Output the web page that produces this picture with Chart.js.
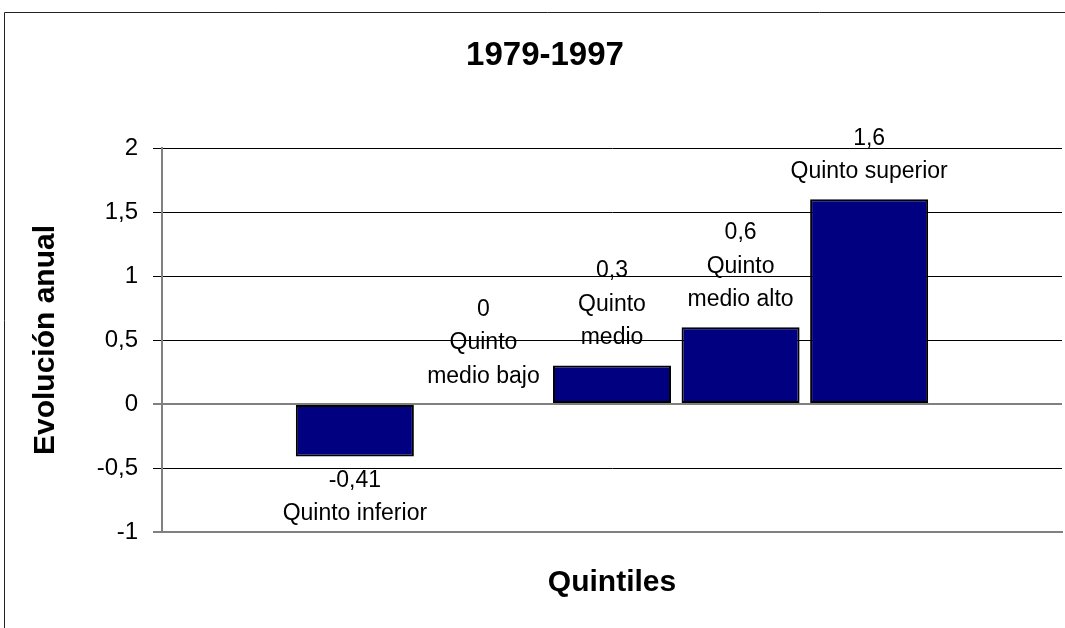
<!DOCTYPE html>
<html>
<head>
<meta charset="utf-8">
<script src="https://cdn.jsdelivr.net/npm/chart.js@4/dist/chart.umd.min.js"></script>
<style>
  html, body { margin: 0; padding: 0; background: #fff; overflow: hidden; width: 1065px; height: 628px; }
  #wrap { position: absolute; left: 0; top: 0; width: 1090px; height: 628px; }
</style>
</head>
<body>
<div id="wrap"><canvas id="c" width="1090" height="628"></canvas></div>
<script>
// ---- data ----
const categories = ['', 'Quinto inferior', 'Quinto medio bajo', 'Quinto medio', 'Quinto medio alto', 'Quinto superior', ''];
const categoryLines = [[], ['Quinto inferior'], ['Quinto', 'medio bajo'], ['Quinto', 'medio'], ['Quinto', 'medio alto'], ['Quinto superior'], []];
const values = [null, -0.41, 0, 0.3, 0.6, 1.6, null];
const valueLabels = ['', '-0,41', '0', '0,3', '0,6', '1,6', ''];
const yTicks = [-1, -0.5, 0, 0.5, 1, 1.5, 2];
const chartTitle = '1979-1997';
const yTitle = 'Evolución anual';
const xTitle = 'Quintiles';

Chart.defaults.font.family = "'Liberation Sans', Arial, sans-serif";
Chart.defaults.color = '#000';

const frame = {
  id: 'frame',
  beforeDraw(chart) {
    const ctx = chart.ctx;
    ctx.save();
    ctx.strokeStyle = '#222';
    ctx.lineWidth = 1;
    ctx.beginPath();
    ctx.moveTo(4.5, 640);
    ctx.lineTo(4.5, 12.5);
    ctx.lineTo(1200, 12.5);
    ctx.stroke();
    // chart title
    ctx.font = "bold 33px 'Liberation Sans', Arial, sans-serif";
    ctx.fillStyle = '#000';
    ctx.textAlign = 'center';
    ctx.textBaseline = 'middle';
    ctx.fillText(chartTitle, 545, 56);
    ctx.restore();
  }
};

const barLabels = {
  id: 'barLabels',
  afterDatasetsDraw(chart) {
    const ctx = chart.ctx;
    const meta = chart.getDatasetMeta(0);
    ctx.save();
    ctx.font = "23px 'Liberation Sans', Arial, sans-serif";
    ctx.fillStyle = '#000';
    ctx.textAlign = 'center';
    ctx.textBaseline = 'middle';
    const step = 33.5;
    meta.data.forEach((bar, i) => {
      const v = values[i];
      if (v === null || v === undefined) return;
      const lines = [valueLabels[i]].concat(categoryLines[i]);
      if (v >= 0) {
        const last = bar.y - 27.5;
        lines.forEach((t, k) => {
          ctx.fillText(t, bar.x, last - (lines.length - 1 - k) * step);
        });
      } else {
        const first = bar.y + 24;
        lines.forEach((t, k) => {
          ctx.fillText(t, bar.x, first + k * step);
        });
      }
    });
    ctx.restore();
  }
};

new Chart(document.getElementById('c'), {
  type: 'bar',
  data: {
    labels: categories,
    datasets: [{
      data: values,
      backgroundColor: '#000080',
      borderColor: '#000000',
      borderWidth: (c) => (c.raw === 0 ? 0 : 2),
      borderSkipped: false,
      barPercentage: 0.918,
      categoryPercentage: 1.0
    }]
  },
  options: {
    responsive: false,
    animation: false,
    layout: { padding: { left: 0, right: 28, top: 148, bottom: 0 } },
    plugins: {
      legend: { display: false },
      tooltip: { enabled: false },
      title: { display: false }
    },
    scales: {
      x: {
        type: 'category',
        ticks: { display: false },
        grid: { display: false, drawTicks: false },
        border: { display: true, color: '#808080', width: 2 },
        title: {
          display: true,
          text: xTitle,
          font: { size: 30, weight: 'bold' },
          color: '#000',
          padding: { top: 0, bottom: 27 }
        },
        afterFit(scale) { scale.height = 96; }
      },
      y: {
        min: -1,
        max: 2,
        afterBuildTicks(scale) { scale.ticks = yTicks.map(v => ({ value: v })); },
        ticks: {
          padding: 15,
          font: { size: 24 },
          color: '#000',
          callback: (v) => String(v).replace('.', ',')
        },
        grid: {
          color: (c) => (c.tick && (c.tick.value === 0 || c.tick.value === -1) ? '#808080' : '#000000'),
          lineWidth: (c) => (c.tick && (c.tick.value === 0 || c.tick.value === -1) ? 2 : 1),
          tickLength: 9,
          drawTicks: true
        },
        border: { display: true, color: '#808080', width: 2 },
        title: {
          display: true,
          text: yTitle,
          font: { size: 30, weight: 'bold' },
          color: '#000',
          padding: { top: 28, bottom: 0 }
        },
        afterFit(scale) { scale.width = 162; }
      }
    }
  },
  plugins: [frame, barLabels]
});
</script>
</body>
</html>
